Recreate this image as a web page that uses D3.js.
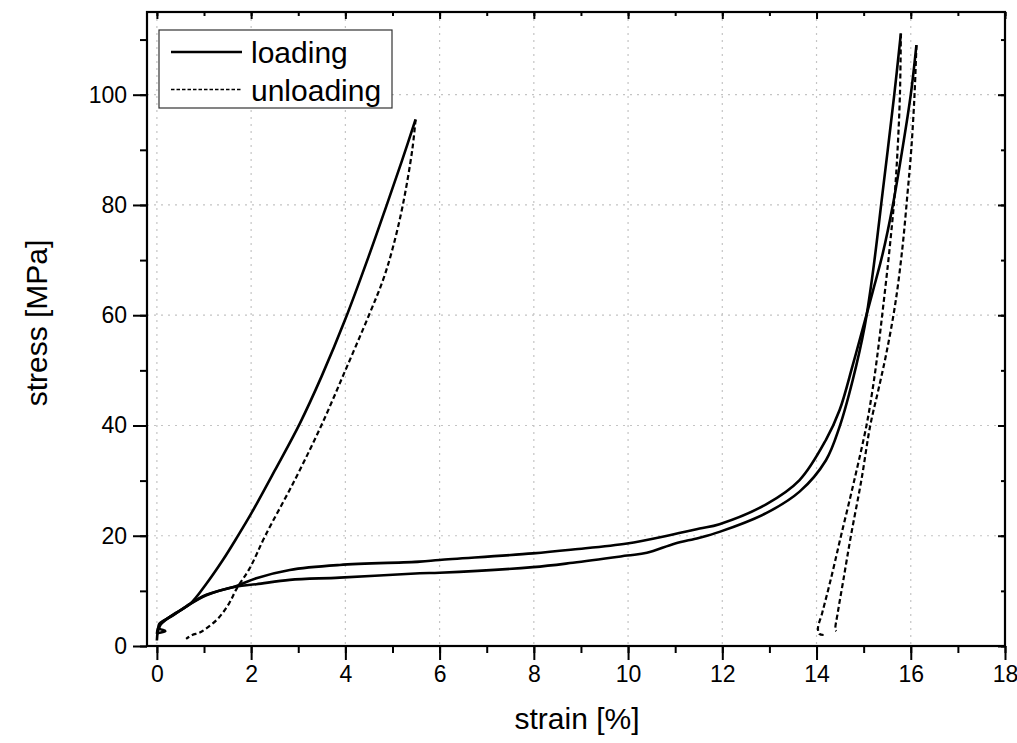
<!DOCTYPE html>
<html>
<head>
<meta charset="utf-8">
<script src="https://cdn.jsdelivr.net/npm/d3@7"></script>
<style>
  body { margin: 0; background: #fff; }
  text { font-family: Arial, "Liberation Sans", sans-serif; fill: #000; }
</style>
</head>
<body>
<div class="container"></div>
<script>
// strain [%], stress [MPa]
let loadA = [[0,1.0],[0.02,2.6],[0.08,3.9],[0.2,4.8],[0.4,6.0],[0.7,7.6],[1.05,11.3],[1.4,15.6],[1.7,19.7],
  [2.0,24],[2.5,31.8],[3.03,40.3],[3.5,49],[4.0,59.3],[4.5,70.8],[4.87,79.8],[5.2,88],[5.49,95.5]];
let unloadA = [[5.49,95.5],[5.42,90],[5.22,80],[5.0,72],[4.8,66.4],[4.5,60],[4.0,50],[3.49,40],[2.92,30],
  [2.3,20],[1.97,14.1],[1.7,10.5],[1.53,7.7],[1.3,5.0],[1.05,3.2],[0.9,2.4],[0.75,2.0],[0.62,1.3]];
let loadB = [[0.0,2.2],[0.03,3.4],[0.12,4.4],[0.35,5.6],[0.63,7.25],[1.05,9.3],[1.69,10.9],[2.11,12.3],[2.82,13.8],
  [3.88,14.7],[5.58,15.3],[6.0,15.6],[7.98,16.8],[8.83,17.5],[9.98,18.6],[10.88,20.1],[11.52,21.3],[11.94,22.1],
  [12.93,25.7],[13.64,30.1],[14.2,37.4],[14.49,42.8],[14.77,51],[15.02,58.8],[15.2,64.5],[15.4,71],
  [15.62,80],[15.82,90],[16.0,100],[16.12,109]];
let loadC = [[0.0,2.3],[0.18,2.7],[0.05,3.2],[0.05,4.0],[0.2,4.9],[0.4,5.9],[0.63,7.2],[1.05,9.2],[1.69,10.8],
  [2.11,11.2],[2.82,12.0],[3.88,12.4],[5.58,13.2],[6.0,13.3],[7.98,14.3],[8.83,15.1],[9.98,16.4],[10.4,16.9],
  [11.0,18.6],[11.5,19.6],[11.94,20.7],[12.93,24.1],[13.64,28.0],[14.2,33.7],[14.49,39.8],[14.77,48.3],
  [15.02,57.9],[15.19,67.4],[15.4,82.1],[15.65,100],[15.79,111.1]];
let unloadC = [[15.79,111.1],[15.77,100],[15.72,90],[15.66,82],[15.55,72],[15.42,62],[15.28,52],[15.18,46],
  [15.06,40],[14.8,30],[14.52,20],[14.3,12],[14.12,6],[14.03,3.2],[14.06,2.2],[14.15,2.0]];
let unloadB = [[16.12,109],[16.08,100],[16.01,90],[15.93,82],[15.82,72],[15.67,62],[15.48,53],[15.3,46],
  [15.14,40],[14.95,30],[14.73,20],[14.57,12],[14.45,6],[14.4,3],[14.42,2.7]];

let xTicks = [0,2,4,6,8,10,12,14,16,18];
let yTicks = [0,20,40,60,80,100];
let legendLabels = ["loading", "unloading"];

let margin = {top: 12, right: 12, bottom: 97, left: 147},
  width = 1017 - margin.left - margin.right,
  height = 743 - margin.top - margin.bottom;

let x = d3.scaleLinear().domain([-0.21, 18]).range([0, width]);
let y = d3.scaleLinear().domain([0, 115]).range([height, 0]);

let svg = d3.select(".container").append("svg")
    .attr("width", 1017)
    .attr("height", 743)
  .append("g")
    .attr("transform", "translate(" + margin.left + "," + margin.top + ")");

// grid
let grid = svg.append("g")
  .attr("stroke", "#c4c4c4")
  .attr("stroke-width", 1.2)
  .attr("stroke-dasharray", "2,5");
grid.selectAll(".gx").data(xTicks.filter(d => d < 18)).enter().append("line")
  .attr("x1", d => x(d)).attr("x2", d => x(d))
  .attr("y1", 0).attr("y2", height);
grid.selectAll(".gy").data(yTicks.filter(d => d > 0)).enter().append("line")
  .attr("x1", 0).attr("x2", width)
  .attr("y1", d => y(d)).attr("y2", d => y(d));

// axes
let xMinor = d3.range(0, 19, 1);
let yMinor = d3.range(0, 111, 10);

let axBottom = svg.append("g").attr("transform", "translate(0," + height + ")");
axBottom.call(d3.axisBottom(x).tickValues(xMinor).tickSize(7).tickFormat(""));
axBottom.append("g").call(d3.axisBottom(x).tickValues(xTicks).tickSize(14).tickPadding(6).tickFormat(d3.format("d")));
let axLeft = svg.append("g");
axLeft.call(d3.axisLeft(y).tickValues(yMinor).tickSize(7).tickFormat(""));
axLeft.append("g").call(d3.axisLeft(y).tickValues(yTicks).tickSize(14).tickPadding(6).tickFormat(d3.format("d")));
let axTop = svg.append("g");
axTop.call(d3.axisTop(x).tickValues(xMinor).tickSize(-4).tickFormat(""));
axTop.append("g").call(d3.axisTop(x).tickValues(xTicks).tickSize(-7).tickFormat(""));
let axRight = svg.append("g").attr("transform", "translate(" + width + ",0)");
axRight.call(d3.axisRight(y).tickValues(yMinor).tickSize(-4).tickFormat(""));
axRight.append("g").call(d3.axisRight(y).tickValues(yTicks).tickSize(-7).tickFormat(""));

svg.selectAll(".domain").remove();
svg.selectAll(".tick line").attr("stroke", "#000").attr("stroke-width", 2);
svg.selectAll(".tick text").attr("font-size", 23).attr("fill", "#000")
  .attr("font-family", "Arial, 'Liberation Sans', sans-serif");

svg.append("rect")
  .attr("width", width).attr("height", height)
  .attr("fill", "none").attr("stroke", "#000").attr("stroke-width", 2.2);

// curves
svg.append("clipPath").attr("id", "clip")
  .append("rect").attr("width", width).attr("height", height);

let line = d3.line()
  .x(d => x(d[0]))
  .y(d => y(d[1]))
  .curve(d3.curveCatmullRom.alpha(0.5));

let curves = svg.append("g").attr("clip-path", "url(#clip)").attr("fill", "none").attr("stroke", "#000");
[loadA, loadB, loadC].forEach(c => {
  curves.append("path").attr("d", line(c)).attr("stroke-width", 2.6).attr("stroke-linejoin", "round");
});
[unloadA, unloadB, unloadC].forEach(c => {
  curves.append("path").attr("d", line(c)).attr("stroke-width", 2.2).attr("stroke-dasharray", "5,3");
});

// legend
let legend = svg.append("g").attr("transform", "translate(" + (159 - margin.left) + "," + (30 - margin.top) + ")");
legend.append("rect")
  .attr("width", 233).attr("height", 78)
  .attr("fill", "#fff").attr("stroke", "#333").attr("stroke-width", 1.2);
legend.selectAll(".lg").data(legendLabels).enter().append("g")
  .attr("transform", (d, i) => "translate(0," + (22 + i * 37.5) + ")")
  .each(function(d, i) {
    let g = d3.select(this);
    g.append("line").attr("x1", 12).attr("x2", 83).attr("y1", 0).attr("y2", 0)
      .attr("stroke", "#000")
      .attr("stroke-width", i ? 1.6 : 2.4)
      .attr("stroke-dasharray", i ? "3.5,2" : null);
    g.append("text").attr("x", 92).attr("y", 11).attr("font-size", 30).text(d);
  });

// titles
svg.append("text")
  .text("strain [%]")
  .attr("text-anchor", "middle")
  .attr("font-size", 30)
  .attr("x", 577 - margin.left)
  .attr("y", 729 - margin.top);
svg.append("text")
  .text("stress [MPa]")
  .attr("text-anchor", "middle")
  .attr("font-size", 30)
  .attr("transform", "translate(" + (47 - margin.left) + "," + (323 - margin.top) + ") rotate(-90)");
</script>
</body>
</html>
